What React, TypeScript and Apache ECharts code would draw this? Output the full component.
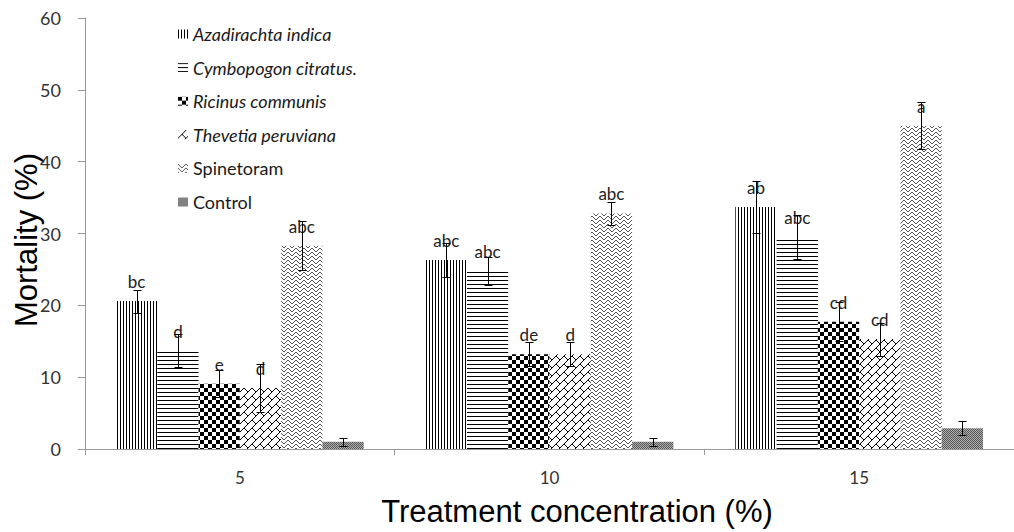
import React, { useEffect, useRef } from 'react';
import * as echarts from 'echarts';

const categories = ['5', '10', '15'];
const seriesNames = ['Azadirachta indica', 'Cymbopogon citratus.', 'Ricinus communis', 'Thevetia peruviana', 'Spinetoram', 'Control'];
const italicFlags = [true, true, true, true, false, false];

const azadirachta = [20.6, 26.3, 33.7];
const cymbopogon = [13.7, 24.8, 29.5];
const ricinus = [9.1, 13.2, 17.7];
const thevetia = [8.5, 13.2, 15.3];
const spinetoram = [28.3, 32.8, 45.0];
const control = [1.0, 1.0, 2.9];

const azadirachtaErr = [1.6, 2.4, 3.6];
const cymbopogonErr = [2.3, 1.9, 3.1];
const ricinusErr = [1.9, 1.7, 2.7];
const thevetiaErr = [3.4, 1.65, 2.3];
const spinetoramErr = [3.4, 1.6, 3.3];
const controlErr = [0.55, 0.55, 1.0];

const azadirachtaLetters = ['bc', 'abc', 'ab'];
const cymbopogonLetters = ['d', 'abc', 'abc'];
const ricinusLetters = ['e', 'de', 'cd'];
const thevetiaLetters = ['d', 'd', 'cd'];
const spinetoramLetters = ['abc', 'abc', 'a'];
const controlLetters = ['', '', ''];

const yMin = 0;
const yMax = 60;
const yInterval = 10;

function makeTile(w: number, h: number, draw: (ctx: CanvasRenderingContext2D) => void) {
  const c = document.createElement('canvas');
  c.width = w;
  c.height = h;
  const ctx = c.getContext('2d')!;
  ctx.fillStyle = '#fff';
  ctx.fillRect(0, 0, w, h);
  draw(ctx);
  return { image: c, repeat: 'repeat', imageWidth: w, imageHeight: h } as any;
}

function bitTile(rows: string[], fg: string, bg = '#fff') {
  const h = rows.length;
  const w = rows[0].length;
  return makeTile(w, h, (ctx) => {
    ctx.fillStyle = bg;
    ctx.fillRect(0, 0, w, h);
    ctx.fillStyle = fg;
    for (let y = 0; y < h; y++) {
      for (let x = 0; x < w; x++) {
        if (rows[y][x] === '1') ctx.fillRect(x, y, 1, 1);
      }
    }
  });
}

export default function App() {
  const ref = useRef<HTMLDivElement>(null);
  useEffect(() => {
    if (!ref.current) return;
    const chart = echarts.init(ref.current, undefined, { renderer: 'svg' });

    const vertical = bitTile(['100'], '#000');
    const horizontal = bitTile(['1', '0', '0', '0'], '#000');
    const checker = bitTile([
      '11110000', '11110000', '11110000', '11110000',
      '00001111', '00001111', '00001111', '00001111',
    ], '#000');
    const brick = bitTile([
      '00000001',
      '00000010',
      '00000100',
      '00001000',
      '00011000',
      '00100100',
      '01000010',
      '10000001',
    ], '#000');
    const zigzag = bitTile([
      '10000001',
      '01000010',
      '00100100',
      '00011000',
      '10000001',
      '01000010',
      '00100100',
      '00011000',
    ], '#555');
    const dither = bitTile(['10', '01'], '#555', '#b0b0b0');
    const patterns = [vertical, horizontal, checker, brick, zigzag, dither];

    const values = [azadirachta, cymbopogon, ricinus, thevetia, spinetoram, control];
    const errs = [azadirachtaErr, cymbopogonErr, ricinusErr, thevetiaErr, spinetoramErr, controlErr];
    const letters = [azadirachtaLetters, cymbopogonLetters, ricinusLetters, thevetiaLetters, spinetoramLetters, controlLetters];

    const errData: number[][] = [];
    values.forEach((vals, s) => {
      vals.forEach((v, c) => {
        errData.push([c, s, v - errs[s][c], v + errs[s][c]]);
      });
    });

    const barSeries = seriesNames.map((name, s) => ({
      name,
      type: 'bar',
      data: values[s],
      barGap: '0%',
      barCategoryGap: '20%',
      itemStyle: { color: patterns[s] },
      label: {
        show: true,
        position: 'top',
        distance: 11,
        color: '#222',
        fontFamily: 'Lato',
        fontSize: 17,
        formatter: (p: any) => letters[s][p.dataIndex],
      },
      z: 2,
    }));

    const option: any = {
      animation: false,
      backgroundColor: '#fff',
      grid: { left: 85, right: -8, top: 18, bottom: 83, containLabel: false },
      legend: {
        orient: 'vertical',
        left: 173,
        top: 20,
        itemWidth: 10,
        itemHeight: 9,
        itemGap: 15.6,
        icon: 'rect',
        textStyle: { fontFamily: 'Lato', fontSize: 18, color: '#1a1a1a', lineHeight: 18 },
        data: seriesNames.map((n, i) => ({
          name: n,
          textStyle: { fontStyle: italicFlags[i] ? 'italic' : 'normal' },
        })),
        selectedMode: false,
      },
      xAxis: {
        type: 'category',
        data: categories,
        axisLine: { lineStyle: { color: '#999', width: 1 } },
        axisTick: { show: true, length: 6, lineStyle: { color: '#999' } },
        axisLabel: { margin: 20, fontFamily: 'Lato', fontSize: 17, color: '#333' },
        splitLine: { show: false },
      },
      yAxis: {
        type: 'value',
        min: yMin,
        max: yMax,
        interval: yInterval,
        axisLine: { show: true, lineStyle: { color: '#999', width: 1 } },
        axisTick: { show: true, length: 7, lineStyle: { color: '#999' } },
        axisLabel: { margin: 24, fontFamily: 'Lato', fontSize: 18, color: '#333' },
        splitLine: { show: false },
      },
      graphic: [
        {
          type: 'text',
          x: 26,
          y: 240,
          rotation: Math.PI / 2,
          style: {
            text: 'Mortality (%)',
            font: '31px "Liberation Sans"',
            fill: '#000',
            align: 'center',
            verticalAlign: 'middle',
          },
        },
        {
          type: 'text',
          x: 577,
          y: 511,
          style: {
            text: 'Treatment concentration (%)',
            font: '31px "Liberation Sans"',
            fill: '#000',
            align: 'center',
            verticalAlign: 'middle',
          },
        },
      ],
      series: [
        ...barSeries,
        {
          type: 'custom',
          name: 'errors',
          data: errData,
          encode: { x: 0, y: [2, 3] },
          z: 5,
          silent: true,
          renderItem: (params: any, api: any) => {
            const c = api.value(0);
            const s = api.value(1);
            const lo = api.coord([c, api.value(2)]);
            const hi = api.coord([c, api.value(3)]);
            const catW = api.size([1, 0])[0];
            const barW = (catW * 0.8) / 6;
            const x = Math.round(lo[0] + (s - 2.5) * barW) + 0.5;
            const y1 = Math.round(hi[1]) + 0.5;
            const y2 = Math.round(lo[1]) + 0.5;
            const cap = 4;
            const st = { stroke: '#000', lineWidth: 1 };
            return {
              type: 'group',
              children: [
                { type: 'line', shape: { x1: x, y1, x2: x, y2 }, style: st },
                { type: 'line', shape: { x1: x - cap, y1, x2: x + cap, y2: y1 }, style: st },
                { type: 'line', shape: { x1: x - cap, y1: y2, x2: x + cap, y2 }, style: st },
              ],
            };
          },
        },
      ],
    };
    chart.setOption(option);
    return () => chart.dispose();
  }, []);
  return <div ref={ref} style={{ width: 1014, height: 532, position: 'absolute', left: 0, top: 0 }} />;
}
